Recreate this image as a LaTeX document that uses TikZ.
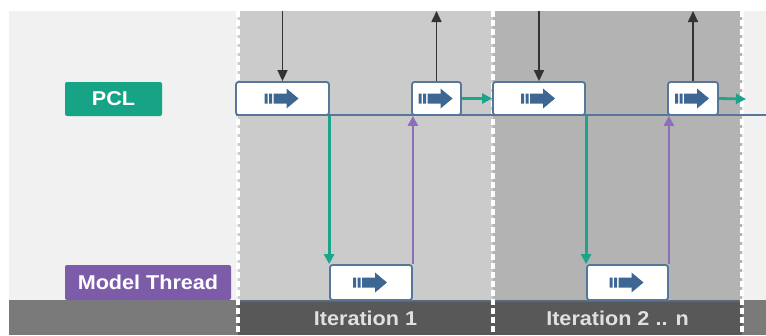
\documentclass[tikz,border=0pt]{standalone}
\usepackage{fontspec}
\setmainfont{Liberation Sans}
\newfontfamily\lblfont[FakeStretch=1.08]{Liberation Sans Bold}
\usetikzlibrary{arrows.meta}

\definecolor{pclgreen}{HTML}{17A386}
\definecolor{mtpurple}{HTML}{7C5BA8}
\definecolor{boxblue}{HTML}{55779A}
\definecolor{iconblue}{HTML}{3D6792}
\definecolor{lanebg}{HTML}{F1F1F1}
\definecolor{iterone}{HTML}{CBCBCB}
\definecolor{itertwo}{HTML}{B3B3B3}
\definecolor{barside}{HTML}{7A7A7A}
\definecolor{barmid}{HTML}{585858}
\definecolor{linkgreen}{HTML}{1BA58A}
\definecolor{linkpurple}{HTML}{8E6EB8}

\begin{document}
\begin{tikzpicture}[x=1pt, y=-1pt,
        stage/.style={draw=boxblue, line width=1.8pt, fill=white, rounded corners=2.5pt, minimum height=33pt, inner sep=0pt},
        lbl/.style={rounded corners=2pt, text=white, font=\lblfont\fontsize{20}{22}\selectfont, inner sep=0pt},
        iter/.style={text=white!88!black, font=\lblfont\fontsize{20}{22}\selectfont},
        divider/.style={draw=white, line width=4pt, dash pattern=on 6pt off 3pt},
        feed/.style={draw=black!80, line width=1.6pt, -{Triangle[length=11pt, width=10pt]}},
        hand/.style={draw=linkgreen, line width=2.8pt, -{Triangle[length=10pt, width=10pt]}},
        back/.style={draw=linkpurple, line width=2.8pt, -{Triangle[length=10pt, width=10pt]}},
        fwd/.pic={
          \fill[iconblue] (-18,-5) rectangle (-15,5) (-13.5,-5) rectangle (-10.5,5)
            (-9,-5) rectangle (5,5);
          \fill[iconblue] (4,-10) -- (16,0) -- (4,10) -- cycle;
        }]
      \useasboundingbox (0,0) rectangle (766,335);
      \fill[white] (0,0) rectangle (766,335);
      % lanes
      \fill[lanebg] (9,11) rectangle (238,300);
      \fill[iterone] (238,11) rectangle (493,300);
      \fill[itertwo] (493,11) rectangle (742,300);
      \fill[lanebg] (742,11) rectangle (766,300);
      \fill[barside] (9,300) rectangle (238,335);
      \fill[barmid] (238,300) rectangle (742,335);
      \fill[barside] (742,300) rectangle (766,335);
      \draw[boxblue!60!barmid, line width=2pt] (238,301) -- (742,301);
      \foreach \x in {238,493,742}
        \draw[divider] (\x,11) -- (\x,335);
      % labels
      \node[lbl, fill=pclgreen, minimum width=97pt, minimum height=34pt] (pcl) at (113.5,99) {PCL};
      \node[lbl, fill=mtpurple, minimum width=166pt, minimum height=35pt] (mt) at (148,282.5) {Model Thread};
      \node[iter] (it1) at (365.5,318.5) {Iteration 1};
      \node[iter] (it2) at (617.5,318.5) {Iteration 2 .. n};
      % timeline
      \coordinate (topedge) at (0,11);
      \coordinate (laneend) at (766,115);
      \draw[boxblue, line width=1.8pt] (236,115) -- (laneend);
      \node[stage, minimum width=93pt] (p1) at (282.5,98.5) {};
      \node[stage, minimum width=49pt] (p2) at (436.5,98.5) {};
      \node[stage, minimum width=92pt] (p3) at (539,98.5) {};
      \node[stage, minimum width=50pt] (p4) at (693,98.5) {};
      \node[stage, minimum width=82pt, minimum height=35pt] (m1) at (371,282.5) {};
      \node[stage, minimum width=81pt, minimum height=35pt] (m2) at (627.5,282.5) {};
      \foreach \n in {p1,p2,p3,p4,m1,m2}
        \pic at (\n) {fwd};
      \draw[feed] (p1.north |- topedge) -- (p1.north);
      \draw[feed] (p2.north) -- (p2.north |- topedge);
      \draw[feed] (p3.north |- topedge) -- (p3.north);
      \draw[feed] (p4.north) -- (p4.north |- topedge);
      \draw[hand] (m1.north west |- p1.south) -- (m1.north west);
      \draw[back] (m1.north east) -- (m1.north east |- p2.south);
      \draw[hand] (m2.north west |- p3.south) -- (m2.north west);
      \draw[back] (m2.north east) -- (m2.north east |- p4.south);
      \coordinate (out) at (746,99);
      \draw[hand] (p2.east) -- (p3.west);
      \draw[hand] (p4.east) -- (out);
    \end{tikzpicture}
\end{document}
